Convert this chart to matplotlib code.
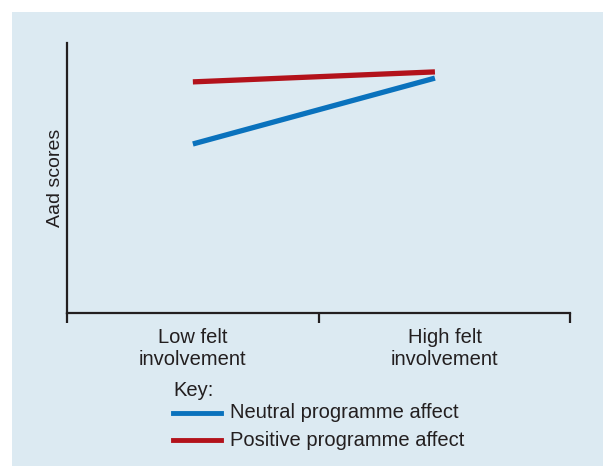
import matplotlib
matplotlib.use("Agg")
import matplotlib.pyplot as plt
from matplotlib.patches import Rectangle
from matplotlib.lines import Line2D

plt.rcParams['font.family'] = ['Liberation Sans', 'DejaVu Sans']

categories = ["Low felt\ninvolvement", "High felt\ninvolvement"]
neutral = [6.26, 8.70]
positive = [8.56, 8.93]
series_names = ["Neutral programme affect", "Positive programme affect"]
colors = ["#0a72bd", "#b3121b"]
ylabel = "Aad scores"

W, H = 603, 466
fig = plt.figure(figsize=(W / 100, H / 100), dpi=100)
fig.patch.set_facecolor("white")
fig.add_artist(Rectangle((12 / W, 0), 1 - 12 / W, 1 - 12 / H, transform=fig.transFigure,
                         facecolor="#dceaf2", edgecolor="none", zorder=0))

ax = fig.add_axes([67 / W, 1 - 313 / H, (570 - 67) / W, (313 - 43) / H])
ax.set_facecolor("none")
xpos = [0, 1]
ax.plot(xpos, neutral, color=colors[0], lw=3.8, solid_capstyle="butt")
ax.plot(xpos, positive, color=colors[1], lw=3.8, solid_capstyle="butt")
ax.set_xlim(-0.52, 1.558)
ax.set_ylim(0, 10)
for s in ["top", "right"]:
    ax.spines[s].set_visible(False)
for s in ["left", "bottom"]:
    ax.spines[s].set_color("#231f20")
    ax.spines[s].set_linewidth(1.6)
ax.set_yticks([])
ax.set_xticks([-0.52, 0.52, 1.558])
ax.set_xticklabels([])
ax.tick_params(axis="x", which="major", direction="out", length=7, width=1.6, color="#231f20")
ax.set_xticks([0, 1.04], minor=True)
ax.set_xticklabels(categories, minor=True, fontsize=14.5, color="#231f20", linespacing=1.2)
ax.tick_params(axis="x", which="minor", length=0, pad=11)
ax.set_ylabel(ylabel, fontsize=14, color="#231f20", labelpad=2)

fig.text(173 / W, 1 - 391 / H, "Key:", fontsize=14.5, color="#231f20", va="center", ha="left")
for i, (name, c) in enumerate(zip(series_names, colors)):
    yy = 1 - (413 + 27 * i) / H
    fig.add_artist(Line2D([173 / W, 221 / W], [yy, yy], color=c, lw=3.5, transform=fig.transFigure))
    fig.text(230 / W, yy, name, fontsize=14.5, color="#231f20", va="center", ha="left")

fig.savefig("out.png", dpi=100)
